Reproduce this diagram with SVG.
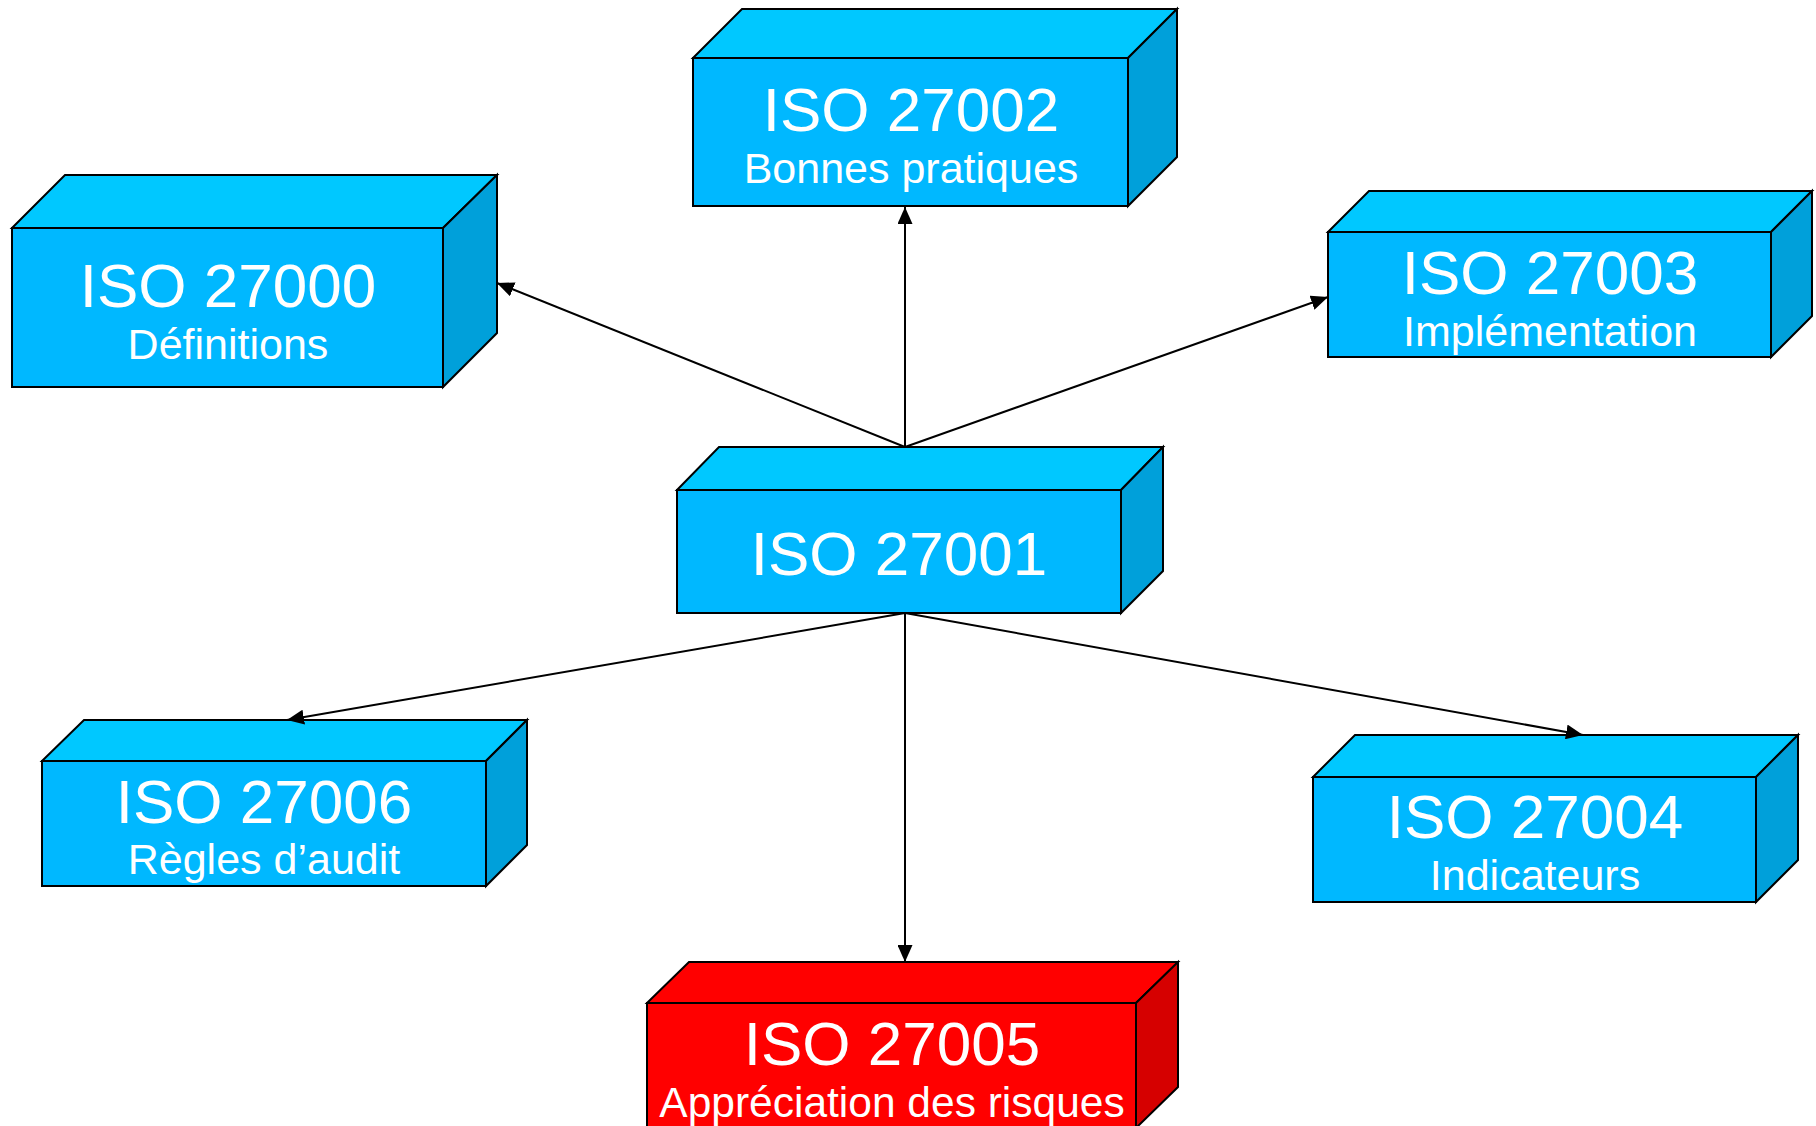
<svg xmlns="http://www.w3.org/2000/svg" width="1816" height="1126" viewBox="0 0 1816 1126">
  <defs>
    <style>
      .face { stroke: #000; stroke-width: 2; stroke-linejoin: miter; }
      .blue .front { fill: #00B8FF; }
      .blue .top { fill: #00C8FF; }
      .blue .side { fill: #00A0DA; }
      .red .front { fill: #FF0000; }
      .red .top { fill: #FF0000; }
      .red .side { fill: #D60000; }
      .title { font-family: "Liberation Sans", Arial, sans-serif; font-size: 62px; fill: #fff; text-anchor: middle; }
      .sub { font-family: "Liberation Sans", Arial, sans-serif; font-size: 43px; fill: #fff; text-anchor: middle; }
      .link { stroke: #000; stroke-width: 2; fill: none; marker-end: url(#arrow); }
    </style>
    <marker id="arrow" viewBox="0 0 17 15" refX="17" refY="7.5" markerWidth="17" markerHeight="15" markerUnits="userSpaceOnUse" orient="auto">
      <path d="M0,0 L17,7.5 L0,15 z" fill="#000"/>
    </marker>
  </defs>

  <rect width="1816" height="1126" fill="#fff"/>

  <!-- ISO 27000 -->
  <g id="iso27000" class="blue">
    <polygon class="face top" points="12,228 65,175 497,175 443,228"/>
    <polygon class="face side" points="443,228 497,175 497,333 443,387"/>
    <rect class="face front" x="12" y="228" width="431" height="159"/>
    <text class="title" x="228" y="307">ISO 27000</text>
    <text class="sub" x="228" y="359">Définitions</text>
  </g>

  <!-- ISO 27002 -->
  <g id="iso27002" class="blue">
    <polygon class="face top" points="693,58 742,9 1177,9 1128,58"/>
    <polygon class="face side" points="1128,58 1177,9 1177,157 1128,206"/>
    <rect class="face front" x="693" y="58" width="435" height="148"/>
    <text class="title" x="911" y="131">ISO 27002</text>
    <text class="sub" x="911" y="183">Bonnes pratiques</text>
  </g>

  <!-- ISO 27003 -->
  <g id="iso27003" class="blue">
    <polygon class="face top" points="1328,232 1369,191 1812,191 1771,232"/>
    <polygon class="face side" points="1771,232 1812,191 1812,316 1771,357"/>
    <rect class="face front" x="1328" y="232" width="443" height="125"/>
    <text class="title" x="1550" y="294">ISO 27003</text>
    <text class="sub" x="1550" y="346">Implémentation</text>
  </g>

  <!-- ISO 27001 -->
  <g id="iso27001" class="blue">
    <polygon class="face top" points="677,490 719,447 1163,447 1121,490"/>
    <polygon class="face side" points="1121,490 1163,447 1163,571 1121,613"/>
    <rect class="face front" x="677" y="490" width="444" height="123"/>
    <text class="title" x="899" y="575">ISO 27001</text>
  </g>

  <!-- ISO 27006 -->
  <g id="iso27006" class="blue">
    <polygon class="face top" points="42,761 84,720 527,720 486,761"/>
    <polygon class="face side" points="486,761 527,720 527,845 486,886"/>
    <rect class="face front" x="42" y="761" width="444" height="125"/>
    <text class="title" x="264" y="823">ISO 27006</text>
    <text class="sub" x="264" y="874">Règles d’audit</text>
  </g>

  <!-- ISO 27004 -->
  <g id="iso27004" class="blue">
    <polygon class="face top" points="1313,777 1355,735 1798,735 1756,777"/>
    <polygon class="face side" points="1756,777 1798,735 1798,860 1756,902"/>
    <rect class="face front" x="1313" y="777" width="443" height="125"/>
    <text class="title" x="1535" y="838">ISO 27004</text>
    <text class="sub" x="1535" y="890">Indicateurs</text>
  </g>

  <!-- ISO 27005 -->
  <g id="iso27005" class="red">
    <polygon class="face top" points="647,1003 689,962 1178,962 1136,1003"/>
    <polygon class="face side" points="1136,1003 1178,962 1178,1087 1136,1128"/>
    <rect class="face front" x="647" y="1003" width="489" height="140"/>
    <text class="title" x="892" y="1065">ISO 27005</text>
    <text class="sub" x="892" y="1117" style="font-size:42.5px">Appréciation des risques</text>
  </g>

  <!-- Connectors from ISO 27001 -->
  <g id="connectors">
    <line class="link" x1="905" y1="447" x2="497" y2="283"/>
    <line class="link" x1="905" y1="447" x2="905" y2="207"/>
    <line class="link" x1="905" y1="447" x2="1328" y2="297"/>
    <line class="link" x1="905" y1="613" x2="287" y2="720"/>
    <line class="link" x1="905" y1="613" x2="1583" y2="735"/>
    <line class="link" x1="905" y1="613" x2="905" y2="962"/>
  </g>
</svg>
